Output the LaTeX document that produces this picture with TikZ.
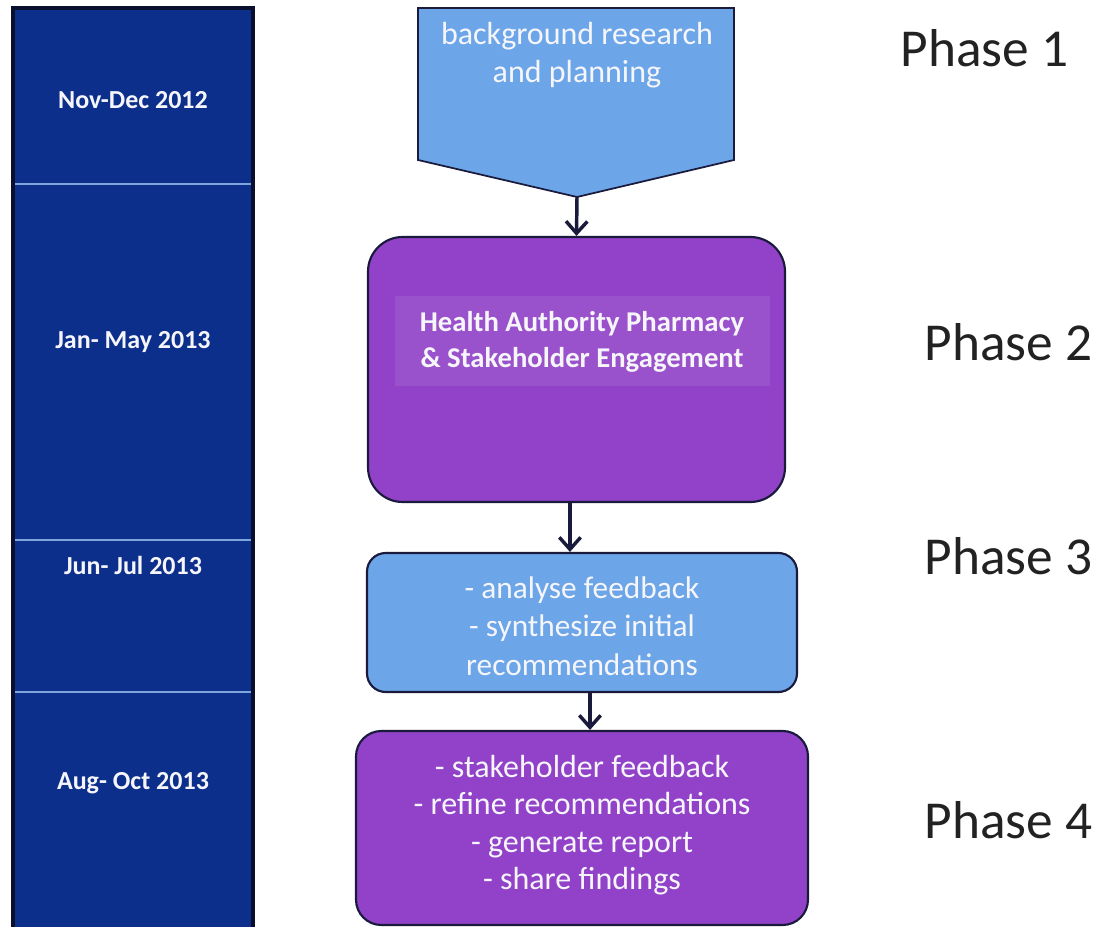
\documentclass[tikz,border=0pt]{standalone}
\usepackage{fontspec}
\setmainfont{Carlito}
\usetikzlibrary{arrows.meta,calc}
\definecolor{colfill}{HTML}{0C2F8C}
\definecolor{colborder}{HTML}{0A0F2E}
\definecolor{divline}{HTML}{7EA6DC}
\definecolor{lblue}{HTML}{6CA6E8}
\definecolor{purp}{HTML}{9242C8}
\definecolor{purpin}{HTML}{9A52CC}
\definecolor{edge}{HTML}{1A1A3C}
\definecolor{txtw}{HTML}{F6F6FA}
\definecolor{phasec}{HTML}{222222}
\tikzset{
  datelbl/.style={text=txtw, font=\fontsize{19.5}{23}\selectfont\bfseries},
  boxtxt/.style={text=txtw, align=center, font=\fontsize{24}{28}\selectfont},
  phaselbl/.style={text=phasec, font=\fontsize{40}{46}\selectfont, anchor=west},
  roundbox/.style={draw=edge, line width=1.6pt, inner sep=0pt},
  flowarrow/.style={draw=edge, line width=2.6pt, -{Straight Barb[length=9pt,width=16pt,line width=2.6pt]}}
}
\begin{document}
\begin{tikzpicture}[x=0.75pt,y=-0.75pt]
\useasboundingbox (0,0) rectangle (1096,927);
\fill[white] (0,0) rectangle (1096,927);
\begin{scope}
\clip (0,0) rectangle (1096,927);
% left timeline column
\draw[fill=colfill, draw=colborder, line width=2.4pt] (13,8) rectangle (253,940);
\draw[divline, line width=1.2pt] (15,184) -- (251,184);
\draw[divline, line width=1.2pt] (15,540) -- (251,540);
\draw[divline, line width=1.2pt] (15,692) -- (251,692);
\end{scope}
\node[datelbl] (d1) at (133,100) {Nov-Dec 2012};
\node[datelbl] (d2) at (133,342) {Jan- May 2013};
\node[datelbl] (d3) at (133,565) {Jun- Jul 2013};
\node[datelbl] (d4) at (133,783) {Aug- Oct 2013};

% phase 1 pentagon
\draw[fill=lblue, draw=edge, line width=1.3pt] (418,8) -- (734,8) -- (734,160) -- (577,197) -- (418,160) -- cycle;
\coordinate (b1tip) at (577,197);
\node[boxtxt] (b1) at (577,55) {background research\\and planning};

% phase 2
\node[roundbox, fill=purp, rounded corners=26pt, minimum width=312.75pt, minimum height=198.75pt] (b2) at (576.5,369.5) {};
\fill[purpin] (395,296) rectangle (770,386);
\node[text=txtw, align=center, font=\fontsize{21.5}{26.5}\selectfont\bfseries] (b2t) at (582,342) {Health Authority Pharmacy\\\& Stakeholder Engagement};

% phase 3
\node[roundbox, fill=lblue, rounded corners=14pt, minimum width=322.5pt, minimum height=104.25pt] (b3) at (582,622.5) {};
\node[boxtxt, font=\fontsize{23.5}{29}\selectfont] (b3t) at (582,626) {- analyse feedback\\- synthesize initial\\recommendations};

% phase 4
\node[roundbox, fill=purp, rounded corners=19pt, minimum width=339pt, minimum height=145.5pt] (b4) at (582,828) {};
\node[boxtxt, font=\fontsize{24}{28}\selectfont] (b4t) at (582,825) {- stakeholder feedback\\- refine recommendations\\- generate report\\- share findings};

% arrows
\draw[flowarrow] (b1tip) -- (b2.north);
\draw[flowarrow] ([xshift=-4.9pt]b2.south) -- ([xshift=-4.9pt]b2.south |- b3.north);
\draw[flowarrow] ([xshift=6pt]b3.south) -- ([xshift=6pt]b3.south |- b4.north);

% phase labels
\node[phaselbl] (p1) at (896,48) {Phase 1};
\node[phaselbl] (p2) at (920,342) {Phase 2};
\node[phaselbl] (p3) at (920,556) {Phase 3};
\node[phaselbl] (p4) at (920,820) {Phase 4};
\end{tikzpicture}
\end{document}
